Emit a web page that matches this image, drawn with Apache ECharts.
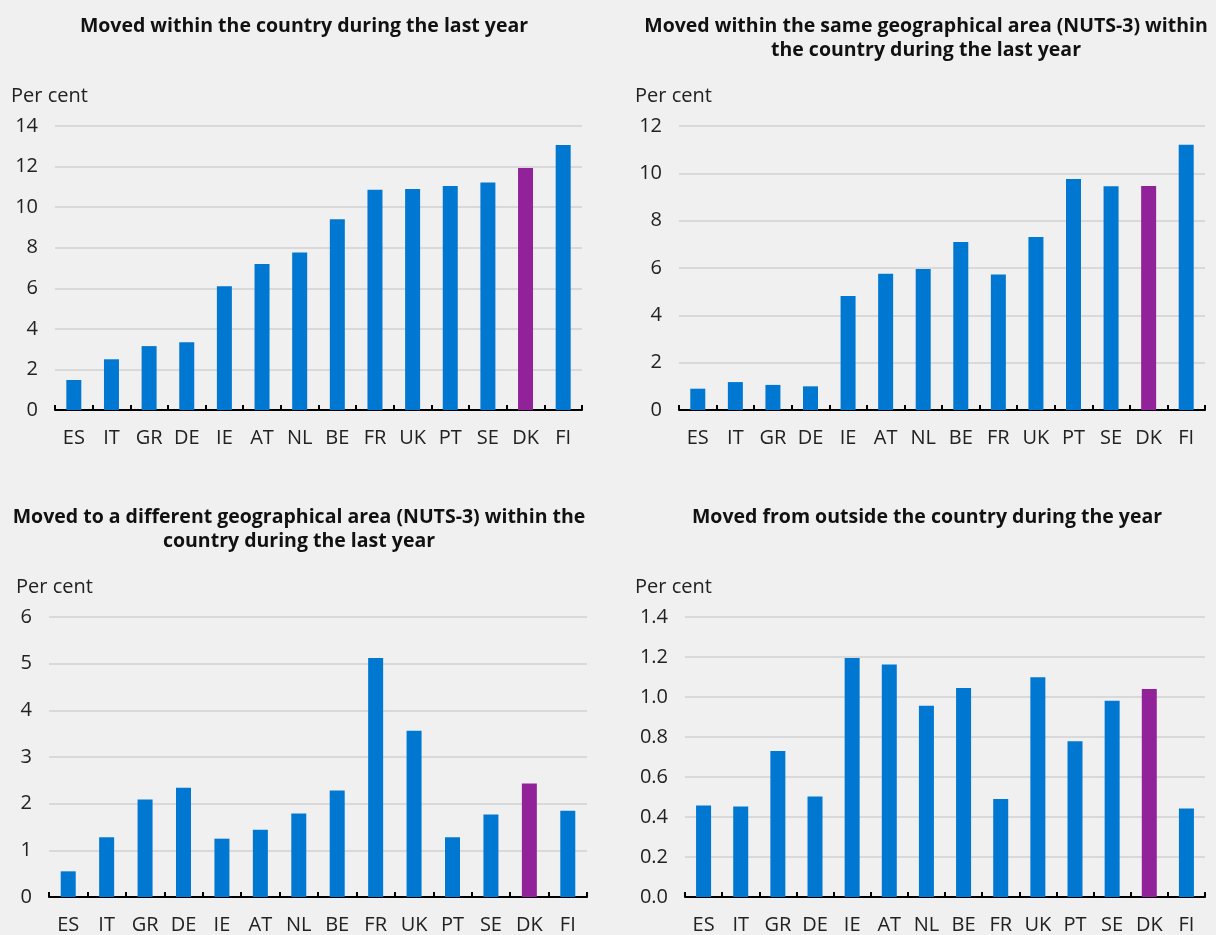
<!DOCTYPE html>
<html>
<head>
<meta charset="utf-8">
<script src="https://cdn.jsdelivr.net/npm/echarts@6/dist/echarts.min.js"></script>
<style>
html,body{margin:0;padding:0;background:#f0f0f0;overflow:hidden;}
#chart{position:absolute;left:0;top:0;width:1216px;height:935px;}
</style>
</head>
<body>
<div id="chart"></div>
<script>
const categories = ['ES','IT','GR','DE','IE','AT','NL','BE','FR','UK','PT','SE','DK','FI'];
const highlight = 'DK';

const withinCountry = [1.48, 2.5, 3.15, 3.34, 6.1, 7.2, 7.77, 9.4, 10.86, 10.89, 11.04, 11.22, 11.93, 13.06];
const sameArea = [0.9, 1.18, 1.06, 1.0, 4.82, 5.76, 5.96, 7.1, 5.73, 7.31, 9.76, 9.45, 9.46, 11.21];
const differentArea = [0.55, 1.28, 2.09, 2.34, 1.25, 1.44, 1.79, 2.28, 5.12, 3.56, 1.28, 1.77, 2.43, 1.85];
const fromOutside = [0.458, 0.452, 0.73, 0.503, 1.195, 1.163, 0.956, 1.045, 0.49, 1.099, 0.779, 0.981, 1.04, 0.442];

const titles = [
  'Moved within the country during the last year',
  'Moved within the same geographical area (NUTS-3) within\nthe country during the last year',
  'Moved to a different geographical area (NUTS-3) within the\ncountry during the last year',
  'Moved from outside the country during the year'
];
const unitLabel = 'Per cent';
const yMax = [14, 12, 6, 1.4];
const yInterval = [2, 2, 1, 0.2];
const yDecimals = [0, 0, 0, 1];

const seriesData = [withinCountry, sameArea, differentArea, fromOutside];

const BLUE = '#0078d2';
const PURPLE = '#92229a';
const FONT = '"Open Sans", "Noto Sans", sans-serif';

const grids = [
  {left: 55, top: 126, width: 527, height: 284},
  {left: 679, top: 126, width: 526, height: 284},
  {left: 49, top: 617, width: 538, height: 284},
  {left: 685, top: 617, width: 520, height: 284}
];
const titlePos = [
  {x: 304, y: 14},
  {x: 926, y: 14},
  {x: 299, y: 505},
  {x: 927, y: 505}
];
const unitPos = [
  {x: 11, y: 86},
  {x: 635, y: 86},
  {x: 16, y: 577},
  {x: 635, y: 577}
];

const option = {
  backgroundColor: '#f0f0f0',
  animation: false,
  title: [],
  grid: grids,
  xAxis: [],
  yAxis: [],
  series: []
};

for (let i = 0; i < 4; i++) {
  option.title.push({
    text: titles[i],
    left: titlePos[i].x,
    top: titlePos[i].y,
    padding: 0,
    textAlign: 'center',
    textStyle: {fontFamily: FONT, fontWeight: 'bold', fontSize: 19.5, color: '#111', lineHeight: 24}
  });
  option.title.push({
    text: unitLabel,
    left: unitPos[i].x,
    top: unitPos[i].y,
    padding: 0,
    textStyle: {fontFamily: FONT, fontWeight: 'normal', fontSize: 20, color: '#222'}
  });
  option.xAxis.push({
    type: 'category',
    gridIndex: i,
    data: categories,
    axisLine: {lineStyle: {color: '#000', width: 2}},
    axisTick: {show: true, inside: true, length: 5, lineStyle: {color: '#000', width: 2}},
    axisLabel: {fontFamily: FONT, fontSize: 20, color: '#222', margin: 18, interval: 0},
    splitLine: {show: false}
  });
  option.yAxis.push({
    type: 'value',
    gridIndex: i,
    min: 0,
    max: yMax[i],
    interval: yInterval[i],
    axisLine: {show: false},
    axisTick: {show: false},
    axisLabel: {
      fontFamily: FONT, fontSize: 20, color: '#222', margin: 17,
      formatter: (v => val => val.toFixed(v))(yDecimals[i])
    },
    splitLine: {lineStyle: {color: '#d2d2d2', width: 1.5}}
  });
  option.series.push({
    type: 'bar',
    xAxisIndex: i,
    yAxisIndex: i,
    barWidth: 15,
    data: seriesData[i].map((v, k) => ({
      value: v,
      itemStyle: {color: categories[k] === highlight ? PURPLE : BLUE}
    }))
  });
}

const chart = echarts.init(document.getElementById('chart'), null, {renderer: 'canvas'});
chart.setOption(option);
</script>
</body>
</html>
